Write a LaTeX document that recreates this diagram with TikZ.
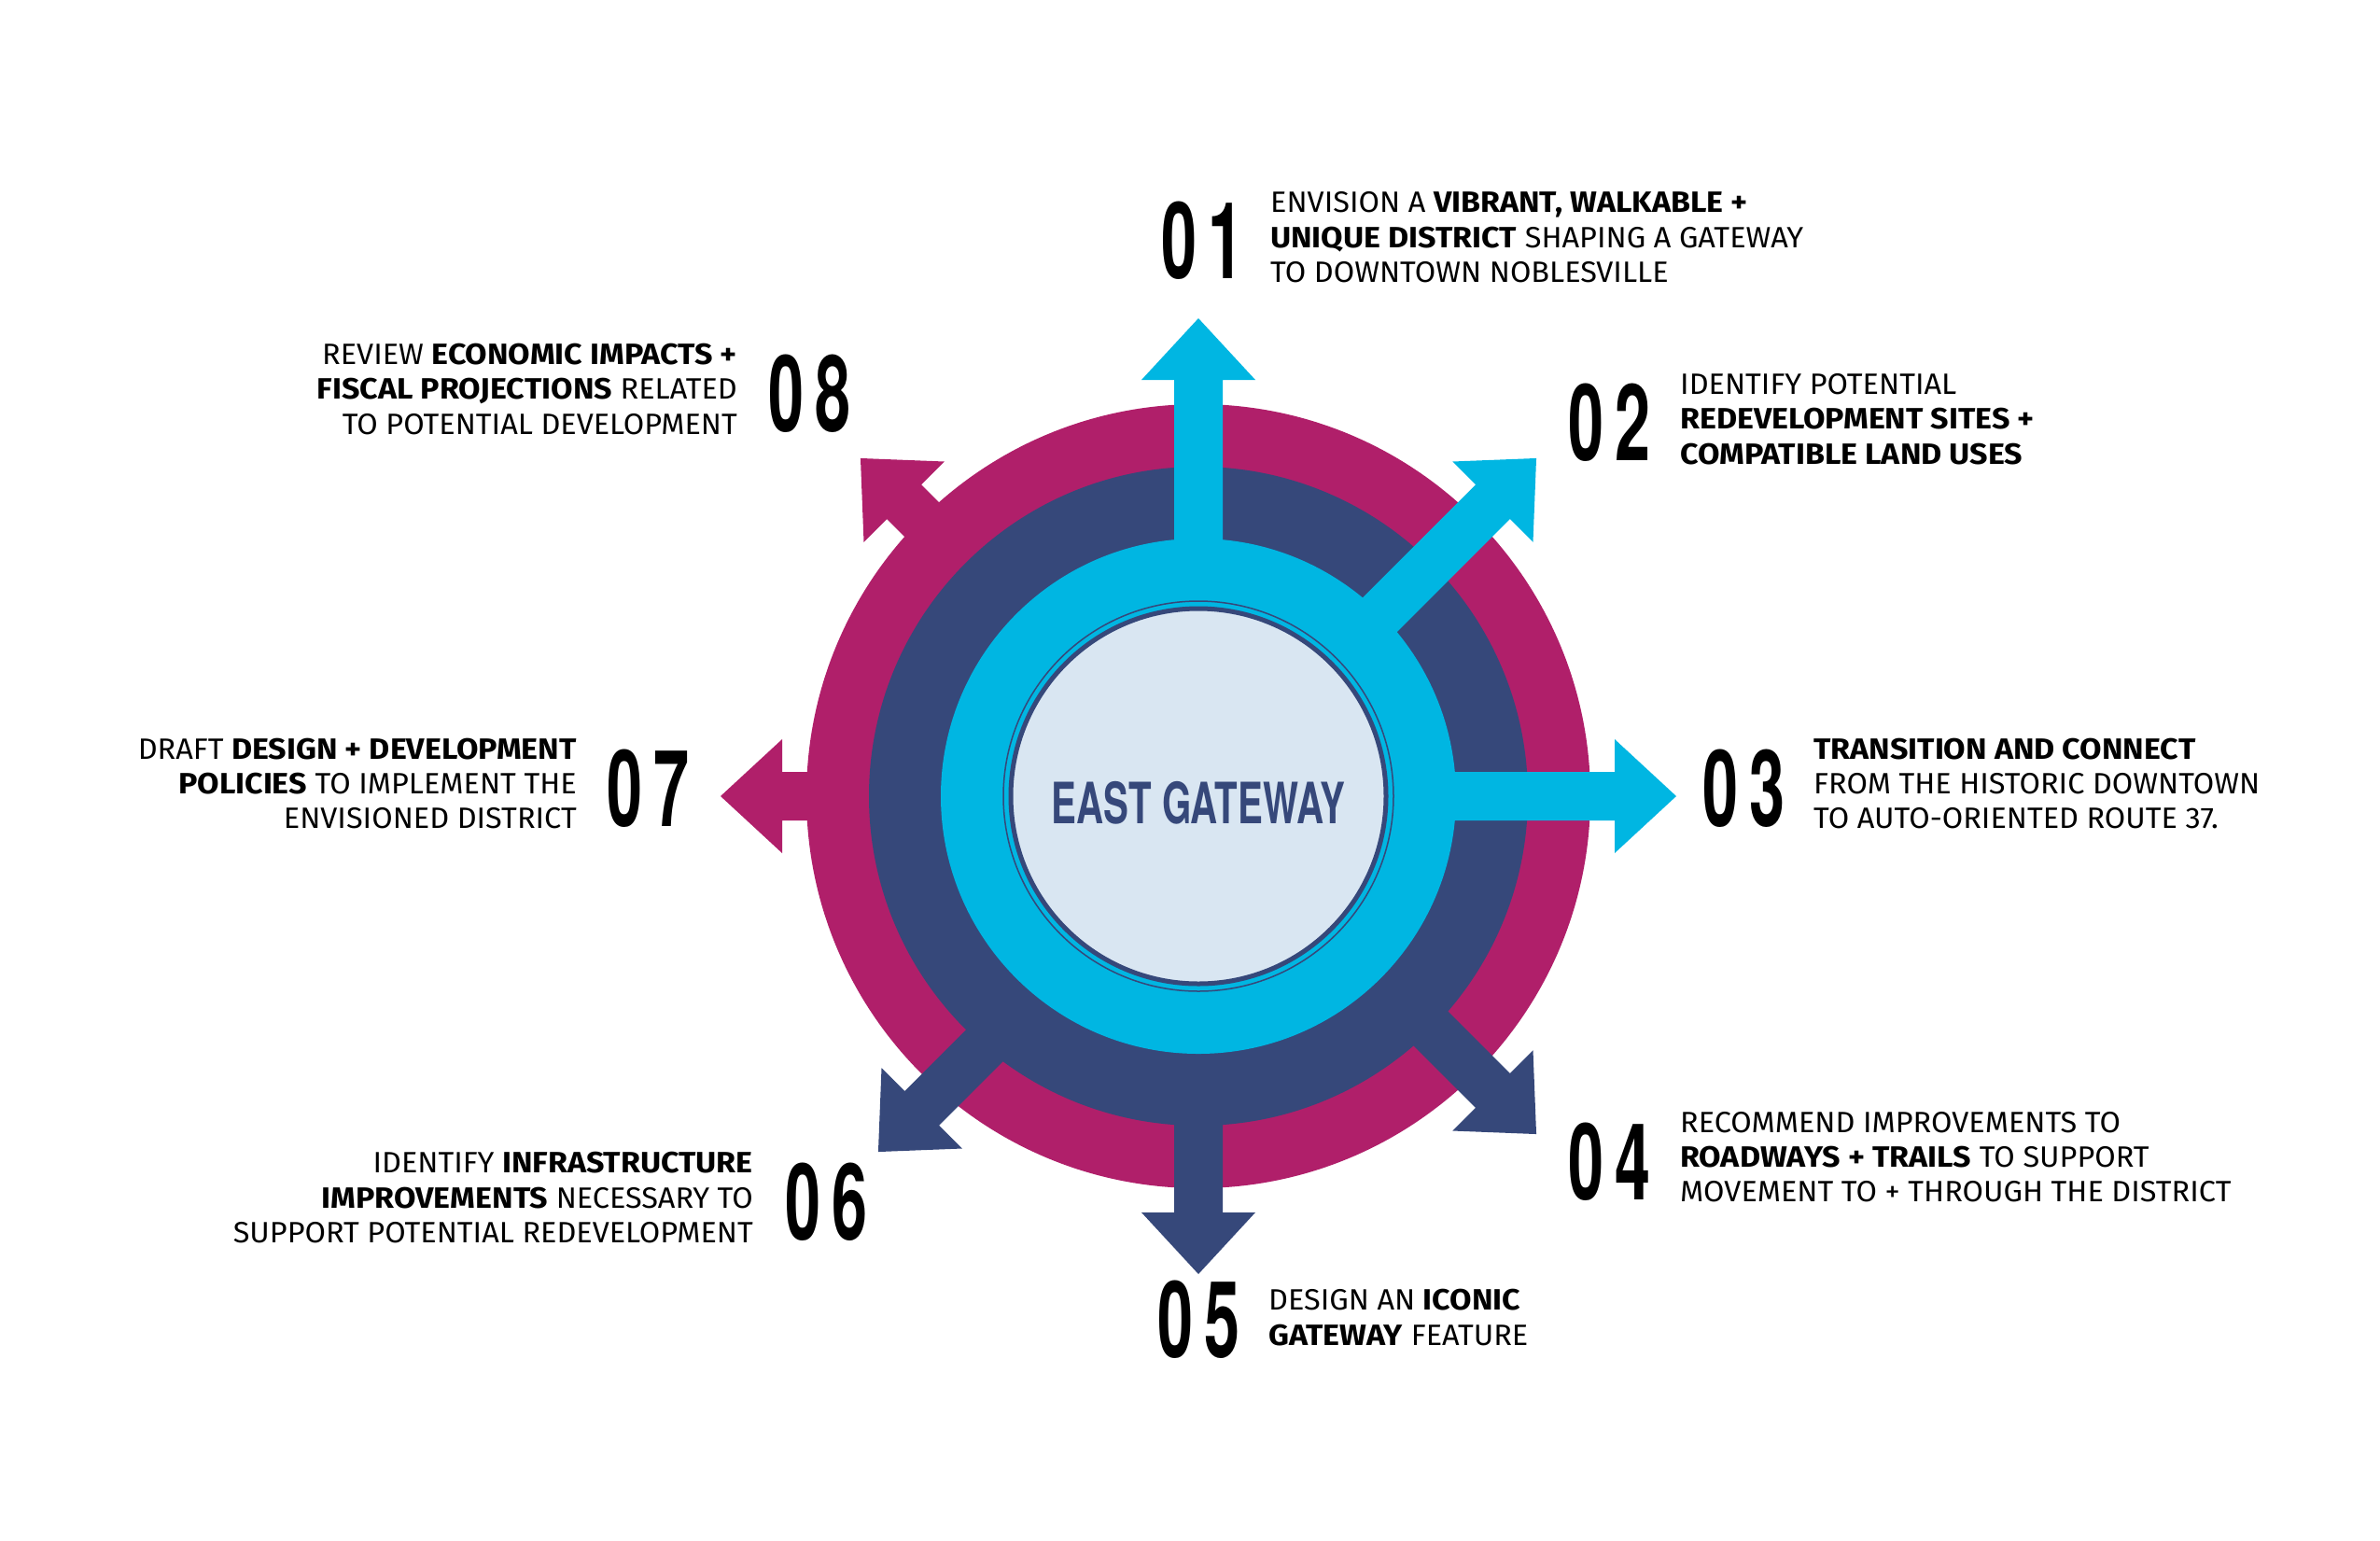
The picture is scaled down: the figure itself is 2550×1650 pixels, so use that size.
\documentclass[tikz,border=0pt]{standalone}
\usepackage{fontspec}
\setmainfont{Fira Sans}[FakeStretch=1.03, BoldFeatures={FakeStretch=1.08}]
\newfontfamily\numfont{TeX Gyre Heros}[FakeStretch=0.6, UprightFont=*-Bold]
\newfontfamily\titlefont{TeX Gyre Heros}[FakeStretch=0.66, UprightFont=*-Bold]
\definecolor{mag}{RGB}{176,31,106}
\definecolor{navy}{RGB}{54,72,122}
\definecolor{cyanc}{RGB}{0,182,226}
\definecolor{lightc}{RGB}{217,230,242}
\begin{document}
\begin{tikzpicture}[x=1pt,y=-1pt,
  txt/.style={inner sep=0pt, anchor=base west, font=\fontsize{31.5}{37.5}\selectfont},
  txtr/.style={inner sep=0pt, anchor=base east, font=\fontsize{31.5}{37.5}\selectfont},
  num/.style={inner sep=0pt, anchor=base west, font=\numfont\fontsize{114}{114}\selectfont},
  arrowbody/.style={fill=#1}]
\useasboundingbox (0,0) rectangle (2550,1650);
\fill[white] (0,0) rectangle (2550,1650);
\coordinate (C) at (1284,853);
\coordinate (C6) at (1303,872);
% rings
\fill[mag] (C) circle[radius=420];
\fill[navy] (C) circle[radius=353];
\fill[cyanc] (C) circle[radius=276];
% arrows
\foreach \a/\c/\r in {90/cyanc/240, 45/cyanc/240, 0/cyanc/240, -45/navy/300, -90/navy/300, 180/mag/380, 135/mag/380}{
  \path[arrowbody=\c, shift={(C)}, rotate=\a]
    (\r,-26) -- (446,-26) -- (446,-61) -- (512,0) -- (446,61) -- (446,26) -- (\r,26) -- cycle;
}
\path[arrowbody=navy, shift={(C6)}, rotate=-135]
    (300,-26) -- (446,-26) -- (446,-61) -- (512,0) -- (446,61) -- (446,26) -- (300,26) -- cycle;
% centre
\draw[navy, line width=1.5pt] (C) circle[radius=209];
\draw[navy, fill=lightc, line width=5pt] (C) circle[radius=201];
\node (eg) [inner sep=0pt, text=navy, font=\titlefont\fontsize{61}{61}\selectfont] at (1284,860) {EAST GATEWAY};
% 01
\node (n01) [num] at (1244,298) {0\kern12pt1};
\node (t01a) [txt] at (1361,227) {ENVISION A \textbf{VIBRANT, WALKABLE +}};
\node (t01b) [txt] at (1361,265) {\textbf{UNIQUE DISTRICT} SHAPING A GATEWAY};
\node (t01c) [txt] at (1361,302) {TO DOWNTOWN NOBLESVILLE};
% 02
\node (n02) [num] at (1680,493) {0\kern12pt2};
\node (t02a) [txt] at (1800,422) {IDENTIFY POTENTIAL};
\node (t02b) [txt] at (1800,459) {\textbf{REDEVELOPMENT SITES +}};
\node (t02c) [txt] at (1800,497) {\textbf{COMPATIBLE LAND USES}};
% 03
\node (n03) [num] at (1824,885) {0\kern12pt3};
\node (t03a) [txt] at (1943,813) {\textbf{TRANSITION AND CONNECT}};
\node (t03b) [txt] at (1943,850) {FROM THE HISTORIC DOWNTOWN};
\node (t03c) [txt] at (1943,887) {TO AUTO-ORIENTED ROUTE 37.};
% 04
\node (n04) [num] at (1680,1285) {0\kern12pt4};
\node (t04a) [txt] at (1800,1213) {RECOMMEND IMPROVEMENTS TO};
\node (t04b) [txt] at (1800,1250) {\textbf{ROADWAYS + TRAILS} TO SUPPORT};
\node (t04c) [txt] at (1800,1287) {MOVEMENT TO + THROUGH THE DISTRICT};
% 05
\node (n05) [num] at (1240,1454) {0\kern12pt5};
\node (t05a) [txt] at (1359,1403) {DESIGN AN \textbf{ICONIC}};
\node (t05b) [txt] at (1359,1441) {\textbf{GATEWAY} FEATURE};
% 06
\node (n06) [num] at (841,1328) {0\kern12pt6};
\node (t06a) [txtr] at (807,1256) {IDENTIFY \textbf{INFRASTRUCTURE}};
\node (t06b) [txtr] at (807,1294) {\textbf{IMPROVEMENTS} NECESSARY TO};
\node (t06c) [txtr] at (807,1331) {SUPPORT POTENTIAL REDEVELOPMENT};
% 07
\node (n07) [num] at (650,885) {0\kern12pt7};
\node (t07a) [txtr] at (618,813) {DRAFT \textbf{DESIGN + DEVELOPMENT}};
\node (t07b) [txtr] at (618,850) {\textbf{POLICIES} TO IMPLEMENT THE};
\node (t07c) [txtr] at (618,887) {ENVISIONED DISTRICT};
% 08
\node (n08) [num] at (823,462) {0\kern12pt8};
\node (t08a) [txtr] at (790,390) {REVIEW \textbf{ECONOMIC IMPACTS +}};
\node (t08b) [txtr] at (790,427) {\textbf{FISCAL PROJECTIONS} RELATED};
\node (t08c) [txtr] at (790,465) {TO POTENTIAL DEVELOPMENT};
\end{tikzpicture}
\end{document}
